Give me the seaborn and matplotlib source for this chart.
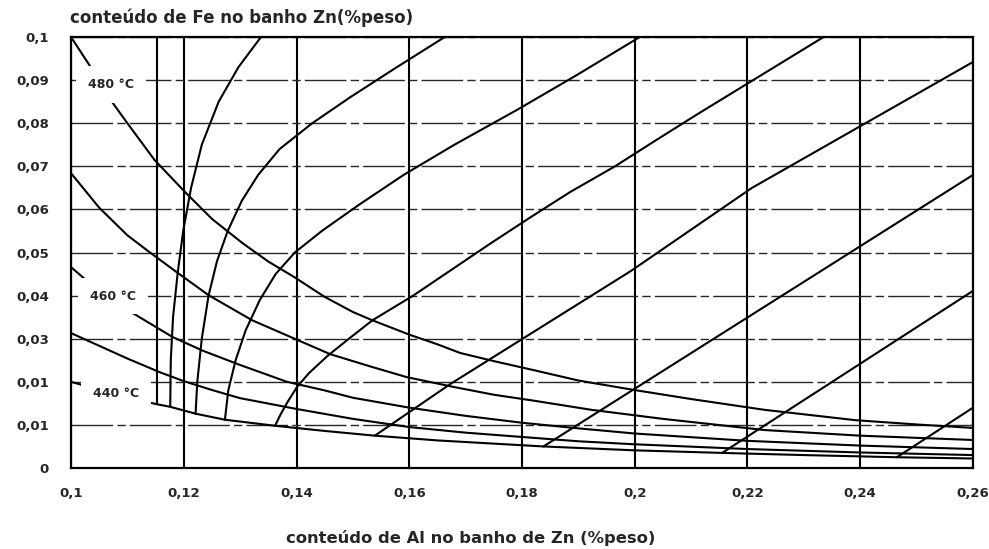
import matplotlib
matplotlib.use("Agg")
import matplotlib.pyplot as plt
import numpy as np
import pandas as pd
import seaborn as sns

# ---------------- data ----------------
# Fe solubility curves (Fe2Al5 saturation), % weight
al_480 = [0.1, 0.1035, 0.1068, 0.11, 0.1148, 0.1204, 0.125, 0.1304, 0.135, 0.1396, 0.145, 0.15, 0.1534,
          0.1601, 0.165, 0.169, 0.175, 0.1821, 0.19, 0.1999, 0.21, 0.223, 0.2391, 0.25, 0.26]
fe_480 = [0.1, 0.093, 0.0858, 0.080, 0.0715, 0.0638, 0.0578, 0.0522, 0.0479, 0.0443, 0.0397, 0.0362, 0.0343,
          0.0309, 0.0287, 0.0267, 0.0248, 0.0227, 0.0203, 0.0181, 0.0160, 0.0135, 0.0111, 0.0101, 0.0093]

al_470 = [0.1, 0.105, 0.11, 0.1136, 0.119, 0.1244, 0.1321, 0.1393, 0.146, 0.153, 0.1595, 0.1679, 0.175,
          0.1822, 0.1923, 0.205, 0.2231, 0.24, 0.26]
fe_470 = [0.0684, 0.0604, 0.0540, 0.0504, 0.0452, 0.0401, 0.0343, 0.0302, 0.0264, 0.0236, 0.0211, 0.0188, 0.0170,
          0.0156, 0.0135, 0.0114, 0.0088, 0.0075, 0.0065]

al_460 = [0.1, 0.105, 0.1105, 0.118, 0.1234, 0.13, 0.1383, 0.145, 0.15, 0.16, 0.17, 0.18, 0.19, 0.2, 0.22, 0.24, 0.26]
fe_460 = [0.0466, 0.0410, 0.0363, 0.0304, 0.0272, 0.0239, 0.0200, 0.0180, 0.0163, 0.0140, 0.0121, 0.0105,
          0.0092, 0.0080, 0.0063, 0.0052, 0.0044]

al_450 = [0.1, 0.1056, 0.11, 0.1158, 0.1199, 0.125, 0.13, 0.14, 0.15, 0.16, 0.17, 0.18, 0.19, 0.2, 0.22, 0.24, 0.26]
fe_450 = [0.0313, 0.0280, 0.0254, 0.0222, 0.0202, 0.0181, 0.0162, 0.0137, 0.0114, 0.0095, 0.0082, 0.0072,
          0.0062, 0.0055, 0.0044, 0.0036, 0.0030]

al_440 = [0.1, 0.105, 0.11, 0.1152, 0.1176, 0.1221, 0.1273, 0.1362, 0.145, 0.1539, 0.165, 0.1838, 0.2, 0.2155,
          0.23, 0.2465, 0.26]
fe_440 = [0.0200, 0.0181, 0.0164, 0.0148, 0.0142, 0.0126, 0.0112, 0.0098, 0.0086, 0.0075, 0.0064, 0.0050,
          0.0041, 0.0035, 0.0030, 0.0025, 0.0022]

# iso-lines starting on the 440 °C curve
al_l1 = [0.1152, 0.1152]
fe_l1 = [0.0148, 0.1]

al_l2 = [0.1176, 0.1177, 0.1181, 0.1189, 0.1199, 0.1213, 0.1232, 0.1262, 0.1297, 0.1337]
fe_l2 = [0.0142, 0.025, 0.035, 0.045, 0.055, 0.065, 0.075, 0.085, 0.093, 0.1]

al_l3 = [0.1221, 0.1224, 0.1232, 0.1244, 0.1259, 0.1278, 0.1303, 0.1332, 0.1370, 0.1428, 0.1495, 0.1578, 0.1663]
fe_l3 = [0.0126, 0.020, 0.030, 0.040, 0.048, 0.055, 0.062, 0.068, 0.074, 0.080, 0.086, 0.093, 0.1]

al_l4 = [0.1273, 0.1279, 0.1292, 0.1310, 0.1335, 0.1363, 0.1397, 0.1445, 0.1510, 0.1590, 0.1680, 0.1790,
         0.1895, 0.2009]
fe_l4 = [0.0112, 0.018, 0.025, 0.032, 0.039, 0.045, 0.050, 0.055, 0.061, 0.068, 0.075, 0.083, 0.091, 0.1]

al_l5 = [0.1362, 0.1372, 0.1385, 0.1401, 0.1422, 0.1455, 0.1493, 0.1535, 0.1607, 0.1675, 0.1743, 0.1813,
         0.1885, 0.1965, 0.2037, 0.2110, 0.2185, 0.2260, 0.2335]
fe_l5 = [0.0098, 0.0125, 0.0155, 0.0188, 0.022, 0.026, 0.030, 0.0343, 0.040, 0.046, 0.052, 0.058, 0.064,
         0.070, 0.076, 0.082, 0.088, 0.094, 0.1]

al_l6 = [0.1539, 0.1673, 0.1993, 0.2208, 0.26]
fe_l6 = [0.0075, 0.0195, 0.0457, 0.0650, 0.0942]

al_l7 = [0.1838, 0.26]
fe_l7 = [0.0050, 0.0680]

al_l8 = [0.2155, 0.26]
fe_l8 = [0.0035, 0.0411]

al_l9 = [0.2465, 0.26]
fe_l9 = [0.0025, 0.0140]

x_ticks = [0.10, 0.12, 0.14, 0.16, 0.18, 0.20, 0.22, 0.24, 0.26]
x_labels = ["0,1", "0,12", "0,14", "0,16", "0,18", "0,2", "0,22", "0,24", "0,26"]
y_ticks = [0.0, 0.01, 0.02, 0.03, 0.04, 0.05, 0.06, 0.07, 0.08, 0.09, 0.1]
y_labels = ["0", "0,01", "0,01", "0,03", "0,04", "0,05", "0,06", "0,07", "0,08", "0,09", "0,1"]

temp_labels = ["480 °C", "460 °C", "440 °C"]
temp_label_al = [0.1071, 0.1074, 0.1080]
temp_label_fe = [0.0889, 0.0399, 0.0174]

title_text = "conteúdo de Fe no banho Zn(%peso)"
xlabel_text = "conteúdo de Al no banho de Zn (%peso)"

# ---------------- build table ----------------
curves = {
    "480": (al_480, fe_480), "470": (al_470, fe_470), "460": (al_460, fe_460),
    "450": (al_450, fe_450), "440": (al_440, fe_440),
    "l1": (al_l1, fe_l1), "l2": (al_l2, fe_l2), "l3": (al_l3, fe_l3),
    "l4": (al_l4, fe_l4), "l5": (al_l5, fe_l5), "l6": (al_l6, fe_l6),
    "l7": (al_l7, fe_l7), "l8": (al_l8, fe_l8), "l9": (al_l9, fe_l9),
}
rows = []
for name, (xs, ys) in curves.items():
    for i, (xv, yv) in enumerate(zip(xs, ys)):
        rows.append({"curva": name, "ordem": i, "al": xv, "fe": yv})
df = pd.DataFrame(rows)

# ---------------- plot ----------------
sns.set_style("white")
plt.rcParams["font.family"] = ["DejaVu Sans"]
plt.rcParams["font.weight"] = "bold"

fig = plt.figure(figsize=(9.89, 5.49), dpi=100)
ax = fig.add_axes([71 / 989, 1 - 468 / 549, 902 / 989, 431 / 549])

ax.set_axisbelow(True)
ax.grid(axis="x", color="black", lw=1.5, ls="-")
ax.grid(axis="y", color="#262626", lw=1.0, ls=(0, (30, 3, 6, 3)))

sns.lineplot(data=df, x="al", y="fe", units="curva", estimator=None, sort=False,
             color="black", lw=1.5, ax=ax, legend=False)

for t, xv, yv in zip(temp_labels, temp_label_al, temp_label_fe):
    ax.text(xv, yv, t, ha="center", va="center", fontsize=9, fontweight="bold",
            zorder=6, bbox=dict(boxstyle="square,pad=0.95", fc="white", ec="none"))

ax.set_xlim(0.1, 0.26)
ax.set_ylim(0.0, 0.1)
ax.set_xticks(x_ticks)
ax.set_xticklabels(x_labels, fontsize=9.5, fontweight="bold")
ax.set_yticks(y_ticks)
ax.set_yticklabels(y_labels, fontsize=9.5, fontweight="bold")
ax.tick_params(axis="x", direction="inout", length=9, width=1.2, pad=9, color="black")
ax.tick_params(axis="y", direction="out", length=4, width=1.2, pad=12, color="black")
ax.set_xlabel("")
ax.set_ylabel("")
for s in ax.spines.values():
    s.set_visible(True)
    s.set_color("black")
    s.set_linewidth(1.6)

fig.text(70 / 989, 1 - 18 / 549, title_text, ha="left", va="center",
         fontsize=12, fontweight="bold")
fig.text(471 / 989, 1 - 538 / 549, xlabel_text, ha="center", va="center",
         fontsize=11.8, fontweight="bold")

fig.savefig("out.png", dpi=100, facecolor="white")
